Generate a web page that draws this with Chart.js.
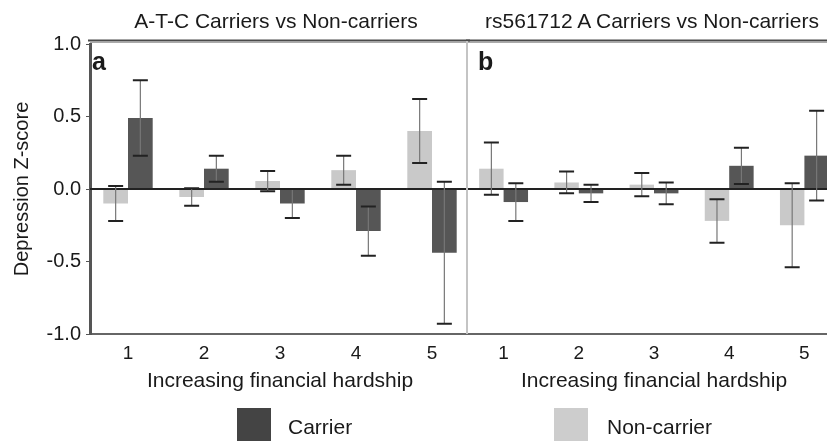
<!DOCTYPE html>
<html>
<head>
<meta charset="utf-8">
<script src="https://cdn.jsdelivr.net/npm/chart.js@4.4.0/dist/chart.umd.min.js"></script>
<style>
  html, body { margin: 0; padding: 0; background: #fff; }
  body { width: 827px; height: 441px; overflow: hidden; position: relative; font-family: "Liberation Sans", Arial, sans-serif; color: #1a1a1a; }
  .box { position: absolute; top: 0; }
  .panel-title { position: absolute; top: 9px; font-size: 21px; text-align: center; white-space: nowrap; }
  .panel-tag { position: absolute; font-size: 25px; font-weight: bold; }
  .legend-swatch { position: absolute; top: 408px; width: 34px; height: 33px; }
  .legend-text { position: absolute; top: 415px; font-size: 21px; }
</style>
</head>
<body>
<div class="box" style="left:0;width:470px;height:441px"><canvas id="chartA" width="470" height="441"></canvas></div>
<div class="box" style="left:466px;width:376px;height:441px"><canvas id="chartB" width="376" height="441"></canvas></div>

<div class="panel-title" style="left:88px;width:376px">A-T-C Carriers vs Non-carriers</div>
<div class="panel-title" style="left:464px;width:376px">rs561712 A Carriers vs Non-carriers</div>
<div class="panel-tag" style="left:92px;top:47px">a</div>
<div class="panel-tag" style="left:478px;top:47px">b</div>

<div class="legend-swatch" style="left:237px;background:#444"></div>
<div class="legend-text" style="left:288px">Carrier</div>
<div class="legend-swatch" style="left:554px;background:#cdcdcd"></div>
<div class="legend-text" style="left:607px">Non-carrier</div>

<script>
// nhãn trục x (mức độ khó khăn tài chính)
const hardshipLabels = ['1', '2', '3', '4', '5'];

// panel a: A-T-C
const atcNonCarrier = [-0.10, -0.055, 0.055, 0.13, 0.40];
const atcNonCarrierErr = [0.12, 0.06, 0.07, 0.10, 0.22];
const atcCarrier = [0.49, 0.14, -0.10, -0.29, -0.44];
const atcCarrierErr = [0.26, 0.09, 0.10, 0.17, 0.49];

// panel b: rs561712 A
const rsNonCarrier = [0.14, 0.045, 0.03, -0.22, -0.25];
const rsNonCarrierErr = [0.18, 0.075, 0.08, 0.15, 0.29];
const rsCarrier = [-0.09, -0.03, -0.03, 0.16, 0.23];
const rsCarrierErr = [0.13, 0.06, 0.075, 0.125, 0.31];

const CARRIER_COLOR = '#565656';
const NON_CARRIER_COLOR = '#c9c9c9';
const FONT = '"Liberation Sans", Arial, sans-serif';

/**
 * Vẽ đường 0, thanh sai số và khung panel
 */
const errorBarPlugin = {
  id: 'errorBars',
  afterDatasetsDraw(chart) {
    const { ctx, chartArea, scales } = chart;
    const y = scales.y;
    ctx.save();

    // đường 0
    const y0 = y.getPixelForValue(0);
    ctx.strokeStyle = '#222';
    ctx.lineWidth = 2;
    ctx.beginPath();
    ctx.moveTo(chartArea.left, y0);
    ctx.lineTo(chartArea.right, y0);
    ctx.stroke();

    chart.data.datasets.forEach((ds, i) => {
      const meta = chart.getDatasetMeta(i);
      meta.data.forEach((bar, j) => {
        const v = ds.data[j];
        const e = ds.errors[j];
        const yHi = y.getPixelForValue(v + e);
        const yLo = y.getPixelForValue(v - e);
        ctx.strokeStyle = '#777';
        ctx.lineWidth = 1.2;
        ctx.beginPath();
        ctx.moveTo(bar.x, yHi);
        ctx.lineTo(bar.x, yLo);
        ctx.stroke();
        ctx.strokeStyle = '#222';
        ctx.lineWidth = 2;
        ctx.beginPath();
        ctx.moveTo(bar.x - 7.5, yHi);
        ctx.lineTo(bar.x + 7.5, yHi);
        ctx.moveTo(bar.x - 7.5, yLo);
        ctx.lineTo(bar.x + 7.5, yLo);
        ctx.stroke();
      });
    });
    ctx.restore();
  },
  afterDraw(chart, args, opts) {
    const { ctx, chartArea } = chart;
    ctx.save();
    // khung trên
    ctx.strokeStyle = '#4a4a4a';
    ctx.lineWidth = 2;
    ctx.beginPath();
    ctx.moveTo(chartArea.left - 2, chartArea.top - 3.5);
    ctx.lineTo(chart.width, chartArea.top - 3.5);
    ctx.stroke();
    ctx.strokeStyle = '#aaa';
    ctx.lineWidth = 1;
    ctx.beginPath();
    ctx.moveTo(chartArea.left, chartArea.top - 1.5);
    ctx.lineTo(chart.width, chartArea.top - 1.5);
    ctx.stroke();
    // đường phân cách giữa hai panel
    if (opts.divider) {
      ctx.strokeStyle = '#c4c4c4';
      ctx.lineWidth = 2;
      ctx.beginPath();
      ctx.moveTo(chartArea.left + 1, chartArea.top - 3);
      ctx.lineTo(chartArea.left + 1, chartArea.bottom);
      ctx.stroke();
    }
    ctx.restore();
  }
};

function buildChart(canvasId, nonCarrier, nonCarrierErr, carrier, carrierErr, showY) {
  const ctx = document.getElementById(canvasId).getContext('2d');
  return new Chart(ctx, {
    type: 'bar',
    data: {
      labels: hardshipLabels,
      datasets: [
        { label: 'Non-carrier', data: nonCarrier, errors: nonCarrierErr, backgroundColor: NON_CARRIER_COLOR, borderWidth: 0 },
        { label: 'Carrier', data: carrier, errors: carrierErr, backgroundColor: CARRIER_COLOR, borderWidth: 0 }
      ]
    },
    options: {
      responsive: false,
      animation: false,
      devicePixelRatio: 1,
      layout: { padding: { top: 44, bottom: 47, left: 0, right: 0 } },
      datasets: { bar: { categoryPercentage: 0.65, barPercentage: 1 } },
      plugins: {
        legend: { display: false },
        tooltip: { enabled: false },
        title: { display: false },
        errorBars: { divider: !showY }
      },
      scales: {
        x: {
          grid: { display: true, drawOnChartArea: false, drawTicks: false },
          border: { color: '#666', width: 2 },
          ticks: { color: '#1a1a1a', padding: 8, font: { family: FONT, size: 19 } },
          title: { display: true, text: 'Increasing financial hardship', color: '#1a1a1a', padding: 0, font: { family: FONT, size: 21 } },
          afterFit: (scale) => { scale.height = 60; }
        },
        y: {
          display: showY,
          min: -1,
          max: 1,
          grid: { drawOnChartArea: false, drawTicks: true, tickLength: 4, color: '#555' },
          border: { color: '#555', width: 3 },
          ticks: {
            stepSize: 0.5,
            padding: 5,
            color: '#1a1a1a',
            font: { family: FONT, size: 20 },
            callback: (v) => Number(v).toFixed(1)
          },
          title: { display: true, text: 'Depression Z-score', color: '#1a1a1a', padding: { top: 10, bottom: 0 }, font: { family: FONT, size: 20 } },
          afterFit: (scale) => { scale.width = showY ? 90 : 0; }
        }
      }
    },
    plugins: [errorBarPlugin]
  });
}

buildChart('chartA', atcNonCarrier, atcNonCarrierErr, atcCarrier, atcCarrierErr, true);
buildChart('chartB', rsNonCarrier, rsNonCarrierErr, rsCarrier, rsCarrierErr, false);
</script>
</body>
</html>
